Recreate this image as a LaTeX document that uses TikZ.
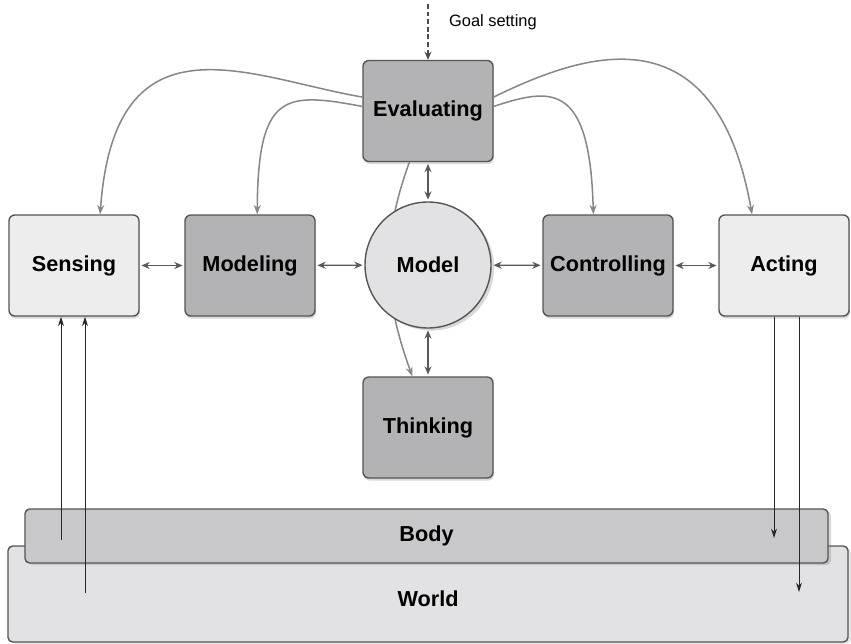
\documentclass[tikz,border=0pt]{standalone}
\usepackage{fontspec}
\setmainfont{Liberation Sans}
\usetikzlibrary{arrows.meta,shadows}

\definecolor{boxdark}{RGB}{179,179,182}
\definecolor{boxlight}{RGB}{237,237,238}
\definecolor{modelfill}{RGB}{226,226,228}
\definecolor{bodyfill}{RGB}{200,200,203}
\definecolor{worldfill}{RGB}{226,226,228}
\definecolor{edge}{RGB}{85,85,88}
\definecolor{curvegray}{RGB}{135,135,138}

\begin{document}
\begin{tikzpicture}[x=0.03cm, y=-0.03cm, font=\bfseries\fontsize{18.5}{20}\selectfont,
  stage/.style={draw=edge, line width=1.2pt, rounded corners=5pt,
    minimum width=3.9cm, minimum height=3.03cm,
    drop shadow={shadow xshift=0.8pt, shadow yshift=-2.2pt, opacity=0.3}},
  inner/.style={stage, fill=boxdark},
  outer/.style={stage, fill=boxlight},
  link/.style={{Stealth[length=7pt,width=6pt]}-{Stealth[length=7pt,width=6pt]},
    line width=1.2pt, draw=black!65, shorten <=1.5pt, shorten >=1.5pt},
  feed/.style={-{Stealth[length=8pt,width=6pt]}, line width=1.3pt, draw=curvegray},
  signal/.style={-{Stealth[length=8pt,width=5pt]}, line width=0.8pt, draw=black!85}]
  \useasboundingbox (0,0) rectangle (851,643);
  % ground layers
  \node[draw=edge, fill=worldfill, line width=1.2pt, rounded corners=4pt,
    minimum width=25.2cm, minimum height=2.88cm, text height=22pt, text depth=0pt,
    drop shadow={shadow yshift=-1.5pt, opacity=0.2}] (world) at (428,594) {World};
  \node[draw=edge, fill=bodyfill, line width=1.2pt, rounded corners=4pt,
    minimum width=24.09cm, minimum height=1.62cm,
    drop shadow={shadow yshift=-1.8pt, opacity=0.3}] (body) at (426.5,536) {Body};
  % process boxes
  \node[outer] (sensing) at (74,265.5) {Sensing};
  \node[inner] (modeling) at (250,265.5) {Modeling};
  \node[inner] (controlling) at (608,265.5) {Controlling};
  \node[outer] (acting) at (784,265.5) {Acting};
  \node[inner] (evaluating) at (428,111) {Evaluating};
  \node[inner] (thinking) at (428,427.5) {Thinking};
  % evaluating -> thinking, passes behind the model
  \draw[feed] (evaluating.250) to[out=250, in=110] (thinking.107);
  \node[circle, draw=edge, fill=modelfill, line width=1.2pt, minimum size=3.78cm,
    drop shadow={shadow yshift=-2.2pt, opacity=0.3}] (model) at (428,265) {Model};
  % goal input
  \coordinate (goal) at (428,4);
  \draw[-{Stealth[length=7pt,width=6pt]}, draw=black!70, line width=1.1pt,
    dash pattern=on 4pt off 2.5pt] (goal) -- (evaluating.north);
  \node[anchor=west, font=\fontsize{14}{16}\selectfont] (goaltext) at (445,22) {Goal setting};
  % exchanges along the chain
  \draw[link] (sensing) -- (modeling);
  \draw[link] (modeling) -- (model);
  \draw[link] (model) -- (controlling);
  \draw[link] (controlling) -- (acting);
  \draw[link] (evaluating) -- (model);
  \draw[link] (model) -- (thinking);
  % evaluating feedback (gray)
  \draw[feed] (evaluating.168) .. controls (250,78) and (115,8) .. (sensing.63);
  \draw[feed] (evaluating.176) .. controls (285,92) and (258,92) .. (modeling.82);
  \draw[feed] (evaluating.12) .. controls (580,55) and (715,5) .. (acting.122);
  \draw[feed] (evaluating.4) .. controls (550,88) and (590,80) .. (controlling.106);
  % signals from and to body / world
  \coordinate (sense1) at (61,540);
  \coordinate (sense2) at (85,593);
  \coordinate (act1) at (774,538);
  \coordinate (act2) at (799,592);
  \draw[signal] (sense1) -- (sense1 |- sensing.south);
  \draw[signal] (sense2) -- (sense2 |- sensing.south);
  \draw[signal] (act1 |- acting.south) -- (act1);
  \draw[signal] (act2 |- acting.south) -- (act2);
\end{tikzpicture}
\end{document}
